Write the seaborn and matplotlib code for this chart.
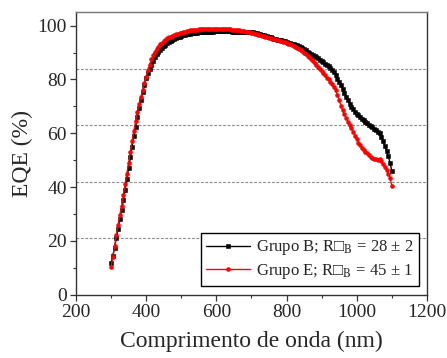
import numpy as np
import pandas as pd
import matplotlib
matplotlib.use("Agg")
import matplotlib.pyplot as plt
from matplotlib.ticker import MultipleLocator
import seaborn as sns

# wavelength grid of the measurement (nm), 5 nm step
wavelength = np.arange(300, 1105, 5)

# Grupo B (black), EQE in %
eqe_b = [
    11.7, 14.5, 17.5, 21.0, 24.5, 28.0, 31.5, 35.0, 39.0, 43.0,
    47.0, 51.0, 55.0, 59.0, 62.5, 66.0, 69.5, 72.5, 75.5, 78.0,
    80.5, 82.3, 84.0, 85.5, 87.0, 88.3, 89.4, 90.3, 91.1, 91.8,
    92.4, 92.9, 93.4, 93.8, 94.2, 94.6, 95.0, 95.3, 95.6, 95.9,
    96.2, 96.4, 96.6, 96.8, 96.9, 97.0, 97.1, 97.2, 97.3, 97.4,
    97.5, 97.5, 97.6, 97.6, 97.7, 97.7, 97.8, 97.8, 97.8, 97.9,
    97.9, 97.9, 97.9, 97.9, 97.9, 97.9, 97.9, 97.9, 97.9, 97.8,
    97.8, 97.8, 97.8, 97.8, 97.8, 97.8, 97.7, 97.7, 97.7, 97.6,
    97.6, 97.5, 97.4, 97.2, 97.0, 96.8, 96.6, 96.4, 96.2, 96.0,
    95.8, 95.6, 95.4, 95.2, 95.0, 94.8, 94.7, 94.5, 94.3, 94.1,
    93.9, 93.7, 93.5, 93.3, 93.1, 92.9, 92.7, 92.4, 92.1, 91.7,
    91.3, 90.8, 90.3, 89.9, 89.5, 89.1, 88.7, 88.3, 87.9, 87.4,
    86.9, 86.4, 85.9, 85.4, 84.9, 84.4, 83.6, 82.7, 81.6, 80.3,
    79.0, 77.8, 76.5, 75.0, 73.6, 72.2, 71.0, 69.9, 68.9, 68.0,
    67.3, 66.6, 66.0, 65.4, 64.9, 64.3, 63.8, 63.2, 62.7, 62.2,
    61.7, 61.1, 60.5, 60.0, 58.7, 57.0, 55.3, 53.5, 51.5, 49.0,
    46.0,
]

# Grupo E (red), EQE in %
eqe_e = [
    10.3, 14.0, 18.0, 22.0, 26.0, 29.5, 33.0, 37.0, 41.0, 45.0,
    49.0, 53.0, 57.0, 61.0, 64.5, 68.0, 71.0, 73.5, 76.0, 78.5,
    81.0, 83.5, 85.5, 87.5, 89.0, 90.3, 91.3, 92.2, 93.0, 93.6,
    94.2, 94.8, 95.3, 95.6, 95.9, 96.2, 96.5, 96.8, 97.0, 97.2,
    97.4, 97.6, 97.8, 97.9, 98.1, 98.2, 98.3, 98.4, 98.5, 98.5,
    98.6, 98.6, 98.7, 98.7, 98.8, 98.8, 98.8, 98.9, 98.9, 98.9,
    98.9, 98.8, 98.8, 98.8, 98.8, 98.7, 98.7, 98.6, 98.6, 98.5,
    98.5, 98.4, 98.3, 98.2, 98.1, 98.0, 97.9, 97.8, 97.7, 97.6,
    97.4, 97.2, 97.0, 96.8, 96.6, 96.4, 96.2, 96.0, 95.8, 95.7,
    95.5, 95.4, 95.2, 95.0, 94.8, 94.6, 94.4, 94.2, 94.0, 93.8,
    93.6, 93.3, 93.0, 92.7, 92.4, 92.1, 91.8, 91.4, 91.0, 90.5,
    90.0, 89.4, 88.8, 88.2, 87.5, 86.9, 86.2, 85.5, 84.8, 84.0,
    83.3, 82.4, 81.5, 80.7, 80.0, 79.2, 78.4, 77.3, 76.0, 74.2,
    72.3, 70.3, 68.5, 67.0, 65.5, 64.2, 63.0, 61.8, 60.5, 59.0,
    57.8, 56.5, 55.5, 54.6, 53.8, 53.1, 52.5, 51.9, 51.3, 50.9,
    50.6, 50.3, 50.2, 50.5, 49.5, 48.5, 47.5, 46.3, 45.0, 43.3,
    40.5,
]

label_b = "Grupo B; R\u25a1$_\\mathrm{B}$ = 28 \u00b1 2"
label_e = "Grupo E; R\u25a1$_\\mathrm{B}$ = 45 \u00b1 1"

sns.set_theme(style="ticks")
plt.rcParams["font.family"] = ["Liberation Serif", "DejaVu Serif"]
plt.rcParams["mathtext.fontset"] = "stix"

fig = plt.figure(figsize=(4.47, 3.58), dpi=100)
ax = fig.add_axes([0.170, 0.177, 0.785, 0.789])

# dashed horizontal guides
for lvl in [21, 42, 63, 84]:
    ax.axhline(lvl, color="#8c8c8c", linestyle=(0, (2.5, 1.5)), linewidth=0.8,
               zorder=0)

sns.lineplot(x=wavelength, y=eqe_b, ax=ax, color="black", linewidth=1.0,
             marker="s", markersize=2.6, markeredgecolor="black",
             markeredgewidth=0.4, label=label_b)
sns.lineplot(x=wavelength, y=eqe_e, ax=ax, color="red", linewidth=1.0,
             marker="o", markersize=2.8, markeredgecolor="red",
             markeredgewidth=0.4, label=label_e)

ax.set_xlim(200, 1200)
ax.set_ylim(0, 105)
ax.xaxis.set_major_locator(MultipleLocator(200))
ax.xaxis.set_minor_locator(MultipleLocator(100))
ax.yaxis.set_major_locator(MultipleLocator(20))
ax.yaxis.set_minor_locator(MultipleLocator(10))
ax.tick_params(which="major", direction="out", length=4.5, width=0.9,
               labelsize=14, color="#333333", pad=2)
ax.tick_params(which="minor", direction="out", length=2.5, width=0.8,
               color="#333333")

for side in ["top", "bottom", "left", "right"]:
    ax.spines[side].set_visible(True)
    ax.spines[side].set_linewidth(1.0)
    ax.spines[side].set_color("#333333")
ax.spines["top"].set_color("#777777")

ax.set_xlabel("Comprimento de onda (nm)", fontsize=17, labelpad=7)
ax.set_ylabel("EQE (%)", fontsize=17, labelpad=3)

leg = ax.legend(loc="lower right", bbox_to_anchor=(0.977, 0.032),
                borderaxespad=0, fancybox=False, framealpha=1,
                edgecolor="black", fontsize=12, handlelength=2.6,
                handletextpad=0.4, borderpad=0.3, labelspacing=0.25)
leg.get_frame().set_linewidth(1.0)

fig.savefig("out.png", dpi=100)
